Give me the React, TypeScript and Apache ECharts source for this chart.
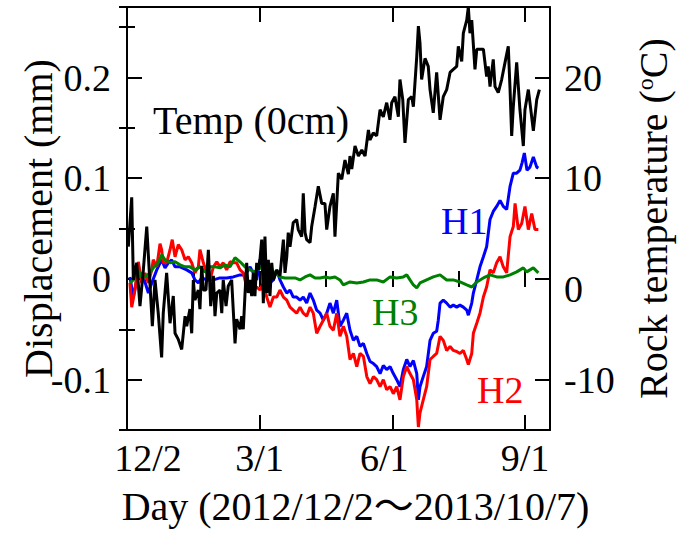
import React, { useEffect, useRef } from 'react';
import * as echarts from 'echarts';

const FONT = '"Liberation Serif", "Times New Roman", "Noto Sans CJK JP", serif';

// X axis: days since 2012/12/2
const X_MAX = 287;
const xTickLabels: Record<number, string> = { 0: '12/2', 90: '3/1', 180: '6/1', 270: '9/1' };
const X_TITLE = 'Day (2012/12/2～2013/10/7)';
const Y_LEFT_TITLE = 'Displacement (mm)';

// Rock temperature (0cm), °C
const tempDay = [0.9,3.2,4.3,6.6,8.8,11.1,13.4,17.2,19.0,21.2,
  23.5,24.6,26.9,29.2,31.4,32.6,34.8,37.1,39.4,40.5,
  42.7,43.9,45.0,46.1,48.4,49.5,50.7,51.8,53.6,55.2,
  56.8,58.6,59.7,60.9,63.1,64.3,65.3,67.2,68.7,71.0,
  73.3,74.4,76.7,77.8,78.9,80.1,81.2,82.3,83.5,84.6,
  85.7,86.8,88.0,89.1,90.2,91.4,92.5,93.6,94.8,95.9,
  97.0,98.2,99.3,101.6,103.8,106.1,107.2,108.4,109.4,110.6,
  112.8,115.1,116.2,118.5,119.6,120.8,121.9,124.2,125.3,127.6,
  129.8,132.1,134.3,135.5,137.7,140.0,141.1,143.4,145.7,147.9,
  150.2,151.3,152.5,154.7,157.0,159.3,161.5,163.8,164.9,167.1,
  169.4,171.7,173.9,176.2,178.4,179.6,181.8,184.1,185.2,187.1,
  188.6,190.9,193.2,194.3,196.6,197.7,198.8,199.9,202.2,204.4,
  205.6,207.8,210.1,212.4,214.6,216.9,219.2,221.4,223.7,224.8,
  227.1,228.2,230.5,231.6,232.7,233.9,236.1,237.3,239.5,241.8,
  244.0,245.1,246.3,248.5,249.7,251.9,254.2,256.5,258.7,259.9,
  261.0,262.1,264.4,266.6,268.9,270.0,272.3,273.4,275.7,278.0,279.8];
const tempVal = [3.2,8.1,-0.1,1.6,-2.7,0.9,5.2,-4.7,-0.1,-3.4,
  -7.8,-3.4,0.6,-4.4,-1.7,-5.4,-6.0,-7.0,-3.7,-4.7,
  -3.0,-5.4,-0.1,-2.1,-1.1,-3.0,1.3,-1.1,-1.1,2.9,
  -2.7,0.3,-3.7,-1.4,-1.1,-3.4,-0.1,-2.7,-0.7,-0.1,
  -6.4,-4.0,-5.0,-3.7,-5.0,-1.4,1.6,-1.4,-0.1,-1.7,
  0.6,-1.7,1.6,0.9,1.9,3.9,-2.4,4.2,-1.4,1.9,
  -1.7,1.6,-0.1,0.9,0.3,3.9,0.6,2.2,4.6,3.2,
  5.6,5.9,4.9,4.2,8.5,4.6,3.9,3.6,5.2,7.2,
  9.2,7.5,7.5,4.9,7.2,8.5,4.2,10.5,9.9,11.8,
  10.4,12.2,10.9,13.2,12.2,12.8,12.2,14.8,13.8,14.5,
  14.2,16.8,16.1,17.5,15.8,17.5,18.1,16.1,19.8,17.8,
  13.5,17.8,18.1,17.1,22.1,25.1,23.4,19.8,21.9,21.1,
  18.8,16.5,20.5,15.8,18.1,18.8,20.5,20.8,21.1,23.1,
  21.6,24.4,25.7,27.0,24.4,25.7,20.8,22.8,22.8,22.8,
  20.1,21.1,19.1,21.8,19.1,18.5,19.8,21.5,23.1,18.8,
  14.2,17.1,21.5,16.8,13.2,16.8,18.8,17.5,14.7,17.8,18.8];

// H1 displacement (mm)
const h1Day = [2.0,4.3,6.6,8.8,11.1,14.5,16.8,20.2,23.5,25.8,
  28.0,30.3,32.6,36.0,40.5,43.9,46.1,48.4,50.7,54.1,
  58.6,63.1,67.6,72.1,76.7,80.1,83.5,85.7,88.0,90.2,
  92.5,94.8,97.0,99.3,101.6,103.8,106.1,108.4,110.6,112.8,
  115.1,117.4,119.6,121.9,124.2,126.4,128.7,131.0,133.2,135.5,
  137.7,140.0,142.3,144.5,146.8,149.1,151.3,153.6,155.9,158.1,
  160.4,162.7,164.9,167.2,169.4,171.7,173.9,176.2,178.5,180.7,
  183.0,185.2,187.5,189.8,192.0,194.3,196.6,197.7,198.8,201.0,
  203.3,205.6,207.8,210.1,211.2,212.4,214.6,216.9,219.2,221.4,
  223.7,225.9,228.2,230.5,231.6,233.9,235.0,237.3,239.5,241.8,
  244.0,246.3,248.5,250.8,253.1,255.3,257.6,259.9,262.1,264.4,
  266.6,268.0,269.6,271.4,273.4,275.7,278.0,279.1];
const h1Val = [0.002,-0.018,-0.001,0.006,0.002,-0.014,-0.004,0.009,0.019,0.011,
  0.016,0.019,0.012,0.012,0.009,0.006,-0.001,-0.004,0.001,-0.001,
  -0.001,0.001,0.001,0.002,0.004,0.004,0.012,0.006,-0.001,0.019,
  0.012,-0.001,-0.004,-0.001,0.009,-0.001,-0.008,-0.014,-0.011,-0.018,
  -0.018,-0.021,-0.018,-0.024,-0.014,-0.021,-0.031,-0.034,-0.041,-0.034,
  -0.024,-0.034,-0.021,-0.047,-0.041,-0.034,-0.051,-0.061,-0.057,-0.067,
  -0.064,-0.074,-0.082,-0.084,-0.087,-0.094,-0.086,-0.090,-0.087,-0.094,
  -0.100,-0.107,-0.090,-0.080,-0.087,-0.081,-0.094,-0.120,-0.107,-0.097,
  -0.087,-0.061,-0.054,-0.052,-0.041,-0.024,-0.021,-0.024,-0.028,-0.026,
  -0.028,-0.026,-0.028,-0.031,-0.036,-0.024,-0.014,-0.001,0.012,0.022,
  0.032,0.059,0.067,0.072,0.078,0.072,0.069,0.092,0.105,0.105,
  0.108,0.115,0.125,0.108,0.111,0.121,0.111,0.110];

// H2 displacement (mm)
const h2Day = [2.0,3.2,5.4,7.7,10.0,12.2,14.5,16.8,17.8,20.2,
  22.4,23.5,24.6,26.9,29.2,30.7,32.6,34.8,37.1,39.4,
  41.6,43.9,46.1,48.4,49.5,51.8,54.1,56.3,58.6,60.9,
  63.1,65.3,67.6,69.9,72.1,74.4,76.7,78.9,81.2,83.5,
  85.7,88.0,90.2,92.5,94.8,97.0,99.3,101.6,103.8,106.1,
  108.4,110.6,112.8,115.1,117.4,119.6,121.9,124.2,126.4,128.7,
  131.0,133.2,135.5,137.7,140.0,142.3,144.5,146.8,149.1,151.3,
  153.6,155.9,158.1,160.4,162.7,164.9,167.2,169.4,171.7,173.9,
  176.2,178.5,180.7,183.0,185.2,187.5,189.8,192.0,194.3,196.6,
  197.7,198.8,201.0,203.3,205.6,207.8,210.1,212.4,214.6,216.9,
  219.2,221.4,223.7,225.9,228.2,230.5,231.6,233.9,235.0,237.3,
  239.5,241.8,244.0,246.3,248.5,250.8,253.1,255.3,257.6,259.9,
  262.1,263.3,265.5,267.8,270.0,272.3,274.6,276.8,279.1];
const h2Val = [-0.004,-0.028,-0.011,0.017,-0.004,0.006,-0.004,0.009,0.019,0.012,
  0.035,0.029,0.016,0.016,0.029,0.039,0.022,0.034,0.029,0.019,
  0.022,0.016,0.006,0.012,0.029,0.016,0.006,-0.001,0.012,0.017,
  0.012,0.016,0.009,0.017,0.016,0.016,0.009,0.006,-0.008,-0.008,
  -0.011,-0.008,-0.011,-0.004,-0.018,-0.028,-0.018,-0.018,-0.011,-0.018,
  -0.021,-0.028,-0.031,-0.034,-0.028,-0.034,-0.037,-0.028,-0.034,-0.054,
  -0.047,-0.041,-0.034,-0.047,-0.051,-0.034,-0.057,-0.047,-0.057,-0.080,
  -0.074,-0.087,-0.074,-0.077,-0.097,-0.104,-0.097,-0.100,-0.107,-0.100,
  -0.110,-0.107,-0.114,-0.107,-0.120,-0.097,-0.087,-0.094,-0.100,-0.120,
  -0.147,-0.133,-0.120,-0.107,-0.080,-0.077,-0.074,-0.057,-0.061,-0.071,
  -0.067,-0.071,-0.072,-0.074,-0.071,-0.080,-0.085,-0.074,-0.054,-0.044,
  -0.034,-0.018,-0.008,0.009,0.006,0.016,0.022,0.012,0.006,0.042,
  0.052,0.075,0.049,0.055,0.072,0.049,0.065,0.049,0.049];

// H3 displacement (mm)
const h3Day = [2.0,4.3,7.7,10.0,12.2,15.6,17.8,21.2,23.5,25.8,
  29.2,32.6,36.0,39.4,42.7,46.1,49.5,52.9,56.3,59.7,
  63.1,66.5,69.9,73.3,76.7,80.1,83.5,86.8,90.2,93.6,
  97.0,100.4,103.8,107.2,110.6,114.0,117.4,120.8,124.2,127.6,
  131.0,134.3,137.7,141.1,144.5,146.8,151.3,155.9,160.4,164.9,
  169.4,173.9,178.5,183.0,187.5,189.8,192.0,194.3,196.6,198.8,
  203.3,207.8,212.4,216.9,221.4,225.9,230.5,233.9,237.3,241.8,
  246.3,250.8,255.3,259.9,264.4,268.9,271.2,273.4,275.7,279.1];
const h3Val = [-0.004,-0.001,0.009,0.002,0.002,0.006,0.011,0.016,0.024,0.019,
  0.016,0.017,0.014,0.012,0.012,0.009,0.012,0.007,0.012,0.012,
  0.011,0.014,0.012,0.021,0.017,0.012,0.009,0.007,0.012,0.006,
  0.004,0.007,0.002,0.001,0.001,0.001,-0.001,0.002,0.004,0.001,
  0.001,0.002,0.001,0.002,-0.001,-0.006,-0.003,-0.004,-0.003,-0.001,
  -0.001,-0.003,0.002,0.001,0.002,0.004,-0.001,-0.006,-0.009,-0.004,
  -0.001,0.002,0.004,-0.001,-0.001,-0.003,-0.006,-0.008,-0.003,0.001,
  0.004,0.002,0.002,0.004,0.007,0.011,0.007,0.009,0.011,0.006];

const zip = (a: number[], b: number[]) => {
  const n = Math.min(a.length, b.length);
  const out: number[][] = [];
  for (let i = 0; i < n; i++) out.push([a[i], b[i]]);
  return out;
};

const BLACK = '#000';
const LINE_W = 3;
const axisLineStyle = { show: true, onZero: false, lineStyle: { color: BLACK, width: 2 } };
const majorTick = { show: true, inside: true, length: 15, lineStyle: { color: BLACK, width: 2 } };
const minorTickAx = { show: true, inside: true, length: 8, lineStyle: { color: BLACK, width: 2 } };
const noLabel = { show: false };
const noSplit = { show: false };

function buildOption() {
  const baseX = { type: 'value', gridIndex: 0, min: 0, max: X_MAX, splitLine: noSplit };
  const baseYL = { type: 'value', gridIndex: 0, min: -0.15, max: 0.27, splitLine: noSplit };
  const baseYR = { type: 'value', gridIndex: 0, min: -15, max: 27, splitLine: noSplit };
  const lab = { color: BLACK, fontFamily: FONT, fontSize: 38 };
  return {
    animation: false,
    backgroundColor: '#fff',
    textStyle: { fontFamily: FONT, color: BLACK },
    grid: { left: 127, right: 128, top: 7, bottom: 115, containLabel: false, outerBoundsMode: 'none' },
    xAxis: [
      {
        ...baseX, position: 'bottom', interval: 90,
        axisLine: axisLineStyle, axisTick: majorTick,
        axisLabel: {
          ...lab, margin: 9,
          formatter: (v: number) => {
            const t = xTickLabels[Math.round(v)];
            if (t === undefined || Math.abs(v - Math.round(v)) > 1e-6) return '';
            if (v === 0) return '{first|' + t + '}';
            if (v === 180) return '{mid|' + t + '}';
            return t;
          },
          rich: {
            first: { ...lab, padding: [0, 0, 0, 42] },
            mid: { ...lab, padding: [0, 16, 0, 0] },
          },
        },
        name: X_TITLE, nameLocation: 'middle', nameGap: 56,
        nameTextStyle: { color: BLACK, fontFamily: FONT, fontSize: 40, padding: [0, 0, 0, 34] },
      },
      { ...baseX, position: 'bottom', interval: 45, axisLine: { show: false }, axisTick: minorTickAx, axisLabel: noLabel },
      { ...baseX, position: 'top', interval: 90, axisLine: axisLineStyle, axisTick: majorTick, axisLabel: noLabel },
      { ...baseX, position: 'top', interval: 45, axisLine: { show: false }, axisTick: minorTickAx, axisLabel: noLabel },
    ],
    yAxis: [
      {
        ...baseYL, position: 'left', splitNumber: 4,
        axisLine: axisLineStyle, axisTick: majorTick,
        axisLabel: {
          ...lab, margin: 16,
          formatter: (v: number) => {
            const r = Math.round(v * 10) / 10;
            if (Math.abs(v - r) > 1e-6) return '';
            return r === 0 ? '0' : r.toFixed(1);
          },
        },
        name: Y_LEFT_TITLE, nameLocation: 'middle', nameGap: 69, nameMoveOverlap: false,
        nameTextStyle: { color: BLACK, fontFamily: FONT, fontSize: 40 },
      },
      { ...baseYL, position: 'left', interval: 0.1, axisLine: { show: false }, axisTick: minorTickAx, axisLabel: noLabel },
      {
        ...baseYR, position: 'right', splitNumber: 4,
        axisLine: axisLineStyle, axisTick: majorTick,
        axisLabel: {
          ...lab, margin: 14,
          formatter: (v: number) => {
            const r = Math.round(v);
            if (Math.abs(v - r) > 1e-6 || r % 10 !== 0) return '';
            return r === 0 ? '{zero|0}' : String(r);
          },
          rich: { zero: { ...lab, padding: [20, 0, 0, 0] } },
        },
        name: 'Rock temperature ({sup|o}C)', nameLocation: 'middle', nameGap: 83,
        nameTextStyle: {
          color: BLACK, fontFamily: FONT, fontSize: 40,
          rich: { sup: { color: BLACK, fontFamily: FONT, fontSize: 24, verticalAlign: 'top' } },
        },
      },
      { ...baseYR, position: 'right', interval: 10, axisLine: { show: false }, axisTick: minorTickAx, axisLabel: noLabel },
    ],
    series: [
      { type: 'line', name: 'H1', xAxisIndex: 0, yAxisIndex: 0, data: zip(h1Day, h1Val), symbol: 'none', showSymbol: false, silent: true, lineStyle: { color: '#0000ff', width: LINE_W }, itemStyle: { color: '#0000ff' } },
      { type: 'line', name: 'H2', xAxisIndex: 0, yAxisIndex: 0, data: zip(h2Day, h2Val), symbol: 'none', showSymbol: false, silent: true, lineStyle: { color: '#ff0000', width: LINE_W }, itemStyle: { color: '#ff0000' } },
      { type: 'line', name: 'H3', xAxisIndex: 0, yAxisIndex: 0, data: zip(h3Day, h3Val), symbol: 'none', showSymbol: false, silent: true, lineStyle: { color: '#008000', width: LINE_W }, itemStyle: { color: '#008000' } },
      { type: 'line', name: 'Temp (0cm)', xAxisIndex: 0, yAxisIndex: 2, data: zip(tempDay, tempVal), symbol: 'none', showSymbol: false, silent: true, lineStyle: { color: BLACK, width: LINE_W }, itemStyle: { color: BLACK } },
    ],
    graphic: [
      { type: 'text', x: 153, y: 120, silent: true, style: { text: 'Temp (0cm)', fill: BLACK, fontFamily: FONT, fontSize: 40, align: 'left', verticalAlign: 'middle' } },
      { type: 'text', x: 441, y: 221, silent: true, style: { text: 'H1', fill: '#0000ff', fontFamily: FONT, fontSize: 38, align: 'left', verticalAlign: 'middle' } },
      { type: 'text', x: 372, y: 312, silent: true, style: { text: 'H3', fill: '#008000', fontFamily: FONT, fontSize: 38, align: 'left', verticalAlign: 'middle' } },
      { type: 'text', x: 477, y: 390, silent: true, style: { text: 'H2', fill: '#ff0000', fontFamily: FONT, fontSize: 38, align: 'left', verticalAlign: 'middle' } },
    ],
  };
}

export default function App() {
  const ref = useRef<HTMLDivElement>(null);
  useEffect(() => {
    if (!ref.current) return;
    const chart = echarts.init(ref.current, null, { renderer: 'svg' });
    chart.setOption(buildOption() as any);
    return () => chart.dispose();
  }, []);
  return <div ref={ref} style={{ position: 'fixed', left: 0, top: 0, width: 678, height: 545 }} />;
}
